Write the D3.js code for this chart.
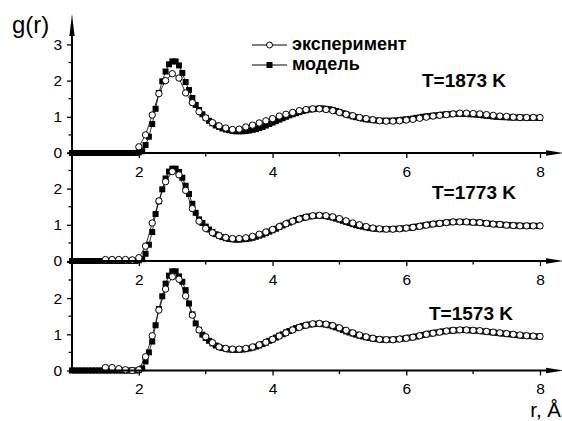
<!DOCTYPE html>
<html>
<head>
<meta charset="utf-8">
<script src="https://cdn.jsdelivr.net/npm/d3@7"></script>
<style>
  body { margin: 0; background: #fff; }
  svg { display: block; }
</style>
</head>
<body>
<svg id="chart" width="562" height="421"></svg>
<script>
// Pair distribution function g(r) of the melt at three temperatures:
// experiment (open circles) against the model (filled squares).

const temperatures = ["T=1873 K", "T=1773 K", "T=1573 K"];
const legendLabels = ["эксперимент", "модель"];
const xMajorTicks = [2, 4, 6, 8];
const xMinorTicks = [3, 5, 7];
const yMajorTicks = [0, 1, 2, 3];
const yMinorTicks = [0.5, 1.5, 2.5];

// experiment: sampled every 0.1 Å, starting at expStart
const expStart = [2.0, 1.5, 1.5];
const expStep = 0.1;

const exp1873 = [
  0.17, 0.50, 1.05, 1.64, 2.00, 2.19, 2.07, 1.66, 1.39, 1.14,
  0.97, 0.84, 0.75, 0.69, 0.65, 0.66, 0.72, 0.77, 0.83, 0.89,
  0.95, 1.02, 1.07, 1.12, 1.17, 1.20, 1.22, 1.22, 1.20, 1.17,
  1.12, 1.07, 1.03, 0.98, 0.95, 0.92, 0.89, 0.88, 0.88, 0.89,
  0.91, 0.93, 0.96, 0.99, 1.02, 1.04, 1.06, 1.08, 1.10, 1.10,
  1.09, 1.08, 1.06, 1.04, 1.02, 1.01, 0.99, 0.98, 0.98, 0.98,
  0.98
];

const exp1773 = [
  0.04, 0.04, 0.04, 0.04, 0.03,
  0.09, 0.41, 1.05, 1.66, 2.19, 2.47, 2.38, 1.95, 1.45, 1.10,
  0.90, 0.78, 0.70, 0.65, 0.62, 0.62, 0.64, 0.68, 0.74, 0.80,
  0.87, 0.95, 1.03, 1.10, 1.16, 1.21, 1.25, 1.26, 1.25, 1.22,
  1.17, 1.11, 1.05, 1.00, 0.95, 0.91, 0.89, 0.88, 0.88, 0.89,
  0.91, 0.93, 0.96, 0.99, 1.02, 1.04, 1.06, 1.08, 1.08, 1.08,
  1.07, 1.06, 1.04, 1.02, 1.01, 0.99, 0.98, 0.97, 0.97, 0.97,
  0.97
];

const exp1573 = [
  0.08, 0.08, 0.05, 0.02, 0.00,
  0.02, 0.38, 0.96, 1.67, 2.25, 2.59, 2.52, 2.06, 1.53, 1.12,
  0.93, 0.77, 0.65, 0.61, 0.59, 0.59, 0.61, 0.65, 0.71, 0.78,
  0.86, 0.95, 1.04, 1.12, 1.19, 1.25, 1.29, 1.30, 1.28, 1.24,
  1.18, 1.11, 1.04, 0.98, 0.93, 0.89, 0.86, 0.85, 0.85, 0.87,
  0.89, 0.92, 0.96, 1.00, 1.03, 1.06, 1.09, 1.11, 1.12, 1.12,
  1.11, 1.10, 1.08, 1.06, 1.04, 1.02, 1.00, 0.98, 0.96, 0.95,
  0.94
];

// model: sampled every 0.05 Å from 1.0 Å
const modelStart = 1.0;
const modelStep = 0.05;

const model1873 = [
  0.00, 0.00, 0.00, 0.00, 0.00, 0.00, 0.00, 0.00, 0.00, 0.00,
  0.00, 0.00, 0.00, 0.00, 0.00, 0.00, 0.00, 0.00, 0.00, 0.00,
  0.02, 0.05, 0.22, 0.45, 0.80, 1.22, 1.66, 1.98, 2.25, 2.45,
  2.53, 2.53, 2.42, 2.21, 1.96, 1.74, 1.52, 1.33, 1.19, 1.07,
  0.97, 0.89, 0.82, 0.76, 0.72, 0.68, 0.65, 0.63, 0.61, 0.60,
  0.60, 0.60, 0.61, 0.62, 0.64, 0.66, 0.69, 0.72, 0.76, 0.80,
  0.84, 0.88, 0.92, 0.96, 1.00, 1.04, 1.07, 1.10, 1.13, 1.16,
  1.18, 1.20, 1.21, 1.22, 1.23, 1.23, 1.22, 1.21, 1.19, 1.16,
  1.13, 1.10, 1.07, 1.04, 1.01, 0.99, 0.97, 0.95, 0.93, 0.92,
  0.91, 0.90, 0.89, 0.89, 0.89, 0.89, 0.89, 0.90, 0.91, 0.92,
  0.93, 0.94, 0.95, 0.97, 0.98, 1.00, 1.01, 1.02, 1.03, 1.04,
  1.05, 1.06, 1.07, 1.07, 1.08, 1.08, 1.08, 1.08, 1.08, 1.07,
  1.07, 1.06, 1.05, 1.04, 1.03, 1.02, 1.01, 1.00, 1.00, 0.99,
  0.99, 0.98, 0.98, 0.98, 0.98, 0.98, 0.97, 0.97, 0.97, 0.97,
  0.97
];

const model1773 = [
  0.00, 0.00, 0.00, 0.00, 0.00, 0.00, 0.00, 0.00, 0.00, 0.00,
  0.00, 0.00, 0.00, 0.00, 0.00, 0.00, 0.00, 0.00, 0.00, 0.00,
  0.02, 0.05, 0.20, 0.45, 0.80, 1.30, 1.65, 1.98, 2.28, 2.47,
  2.55, 2.55, 2.46, 2.30, 2.08, 1.85, 1.58, 1.33, 1.15, 1.05,
  0.95, 0.87, 0.80, 0.74, 0.70, 0.66, 0.63, 0.61, 0.60, 0.59,
  0.59, 0.60, 0.61, 0.62, 0.64, 0.67, 0.70, 0.73, 0.77, 0.81,
  0.85, 0.89, 0.94, 0.98, 1.02, 1.06, 1.10, 1.13, 1.16, 1.19,
  1.21, 1.23, 1.24, 1.25, 1.25, 1.25, 1.24, 1.22, 1.20, 1.17,
  1.14, 1.11, 1.08, 1.05, 1.02, 0.99, 0.97, 0.95, 0.93, 0.91,
  0.90, 0.89, 0.88, 0.88, 0.88, 0.88, 0.88, 0.89, 0.89, 0.90,
  0.91, 0.92, 0.93, 0.95, 0.96, 0.98, 0.99, 1.01, 1.02, 1.03,
  1.04, 1.05, 1.06, 1.07, 1.08, 1.08, 1.08, 1.08, 1.08, 1.07,
  1.07, 1.06, 1.06, 1.05, 1.04, 1.03, 1.02, 1.01, 1.01, 1.00,
  0.99, 0.99, 0.98, 0.98, 0.97, 0.97, 0.97, 0.97, 0.97, 0.97,
  0.97
];

const model1573 = [
  0.00, 0.00, 0.00, 0.00, 0.00, 0.00, 0.00, 0.00, 0.00, 0.00,
  0.00, 0.00, 0.00, 0.00, 0.00, 0.00, 0.00, 0.00, 0.00, 0.00,
  0.01, 0.06, 0.25, 0.50, 0.80, 1.25, 1.70, 2.05, 2.40, 2.62,
  2.74, 2.74, 2.60, 2.45, 2.22, 1.85, 1.55, 1.30, 1.12, 0.99,
  0.90, 0.82, 0.75, 0.69, 0.65, 0.62, 0.60, 0.58, 0.57, 0.57,
  0.57, 0.58, 0.59, 0.61, 0.63, 0.66, 0.69, 0.73, 0.77, 0.82,
  0.86, 0.91, 0.96, 1.00, 1.05, 1.09, 1.13, 1.17, 1.20, 1.23,
  1.25, 1.27, 1.28, 1.29, 1.29, 1.28, 1.27, 1.25, 1.22, 1.19,
  1.16, 1.12, 1.08, 1.05, 1.02, 0.99, 0.96, 0.94, 0.92, 0.90,
  0.88, 0.87, 0.86, 0.85, 0.85, 0.85, 0.85, 0.86, 0.87, 0.88,
  0.89, 0.91, 0.92, 0.94, 0.96, 0.98, 1.00, 1.02, 1.03, 1.05,
  1.06, 1.08, 1.09, 1.10, 1.11, 1.11, 1.12, 1.12, 1.12, 1.11,
  1.11, 1.10, 1.09, 1.08, 1.07, 1.06, 1.05, 1.04, 1.03, 1.02,
  1.01, 1.00, 0.99, 0.98, 0.97, 0.96, 0.96, 0.95, 0.95, 0.94,
  0.94
];

const expSeries = [exp1873, exp1773, exp1573];
const modelSeries = [model1873, model1773, model1573];

// ---- layout ----
const FONT = "'Liberation Sans', Arial, Helvetica, sans-serif";
const svg = d3.select("#chart");
const x = d3.scaleLinear().domain([1, 8]).range([72, 540]);
const panelZero = [153, 261, 370.5];
const panelHeight = 108.6;           // pixel span of g = 0..3
const axisEnd = 562;
const tempLabelPos = [[422, 87], [432, 199], [429, 320]];

function toPoints(values, start, step) {
  return values.map((g, i) => ({ r: +(start + i * step).toFixed(3), g }));
}

panelZero.forEach((zero, p) => {
  const y = d3.scaleLinear().domain([0, 3]).range([zero, zero - panelHeight]);
  const g = svg.append("g").attr("class", "panel");

  const line = d3.line().x(d => x(d.r)).y(d => y(d.g));
  const model = toPoints(modelSeries[p], modelStart, modelStep);
  const expt = toPoints(expSeries[p], expStart[p], expStep);

  // model: thin line with filled squares
  g.append("path").datum(model)
    .attr("d", line).attr("fill", "none")
    .attr("stroke", "#000").attr("stroke-width", 0.8);
  g.selectAll("rect.model").data(model).enter().append("rect")
    .attr("class", "model")
    .attr("x", d => x(d.r) - 3).attr("y", d => y(d.g) - 3)
    .attr("width", 6).attr("height", 6)
    .attr("fill", "#000");

  // experiment: thin line with open circles on top
  g.append("path").datum(expt)
    .attr("d", line).attr("fill", "none")
    .attr("stroke", "#000").attr("stroke-width", 0.8);
  g.selectAll("circle.exp").data(expt).enter().append("circle")
    .attr("class", "exp")
    .attr("cx", d => x(d.r)).attr("cy", d => y(d.g))
    .attr("r", 3.2)
    .attr("fill", "#fff").attr("stroke", "#000").attr("stroke-width", 1);

  // x axis with arrow
  const xAxis = g.append("g").attr("transform", `translate(0,${zero})`)
    .call(d3.axisBottom(x).tickValues(xMajorTicks).tickSize(5)
      .tickSizeOuter(0).tickPadding(7.5).tickFormat(d3.format("d")));
  xAxis.select(".domain").remove();
  xAxis.selectAll(".tick line").attr("stroke", "#000").attr("stroke-width", 1.3);
  xAxis.selectAll(".tick text").attr("font-family", FONT).attr("font-size", 15.5)
    .attr("fill", "#000");
  g.selectAll("line.xminor").data(xMinorTicks).enter().append("line")
    .attr("x1", d => x(d)).attr("x2", d => x(d))
    .attr("y1", zero).attr("y2", zero + 3.5)
    .attr("stroke", "#000").attr("stroke-width", 1.3);
  g.append("line")
    .attr("x1", x(1) - 1).attr("x2", axisEnd - 8)
    .attr("y1", zero).attr("y2", zero)
    .attr("stroke", "#000").attr("stroke-width", 2);
  g.append("path")
    .attr("d", `M${axisEnd - 16},${zero - 2.8} L${axisEnd + 2},${zero} L${axisEnd - 16},${zero + 2.8} Z`)
    .attr("fill", "#000");

  // y axis
  const yAxis = g.append("g").attr("transform", `translate(${x(1)},0)`)
    .call(d3.axisLeft(y).tickValues(yMajorTicks).tickSize(5).tickSizeOuter(0)
      .tickPadding(5)
      .tickFormat(d => (p > 0 && d === 3) ? "" : d3.format("d")(d)));
  yAxis.select(".domain").remove();
  yAxis.selectAll(".tick line").attr("stroke", "#000").attr("stroke-width", 1.3);
  yAxis.selectAll(".tick text").attr("font-family", FONT).attr("font-size", 15.5)
    .attr("fill", "#000");
  g.selectAll("line.yminor").data(yMinorTicks).enter().append("line")
    .attr("x1", x(1) - 3.5).attr("x2", x(1))
    .attr("y1", d => y(d)).attr("y2", d => y(d))
    .attr("stroke", "#000").attr("stroke-width", 1.3);
  g.append("line")
    .attr("x1", x(1)).attr("x2", x(1))
    .attr("y1", zero + 1).attr("y2", p === 0 ? 30 : y(3))
    .attr("stroke", "#000").attr("stroke-width", 2);
  if (p === 0) {
    g.append("path")
      .attr("d", `M${x(1) - 2.6},36 L${x(1)},14 L${x(1) + 2.6},36 Z`)
      .attr("fill", "#000");
  }

  // temperature label
  g.append("text")
    .attr("x", tempLabelPos[p][0]).attr("y", tempLabelPos[p][1])
    .attr("font-family", FONT).attr("font-size", 19).attr("font-weight", "bold")
    .text(temperatures[p]);
});

// axis titles
svg.append("text").attr("x", 12).attr("y", 33)
  .attr("font-family", FONT).attr("font-size", 24).text("g(r)");
svg.append("text").attr("x", 561).attr("y", 416.5)
  .attr("text-anchor", "end")
  .attr("font-family", FONT).attr("font-size", 20.5).text("r, Å");

// legend
const legend = svg.append("g");
const legendY = [45, 65];
legendLabels.forEach((label, i) => {
  const ly = legendY[i];
  legend.append("line").attr("x1", 252).attr("x2", 287)
    .attr("y1", ly).attr("y2", ly).attr("stroke", "#000").attr("stroke-width", 1);
  if (i === 0) {
    legend.append("circle").attr("cx", 269.5).attr("cy", ly).attr("r", 3)
      .attr("fill", "#fff").attr("stroke", "#000").attr("stroke-width", 1);
  } else {
    legend.append("rect").attr("x", 266.5).attr("y", ly - 3)
      .attr("width", 6).attr("height", 6).attr("fill", "#000");
  }
  legend.append("text").attr("x", 292).attr("y", ly + 5)
    .attr("font-family", FONT).attr("font-size", 18).attr("font-weight", "bold")
    .text(label);
});
</script>
</body>
</html>
